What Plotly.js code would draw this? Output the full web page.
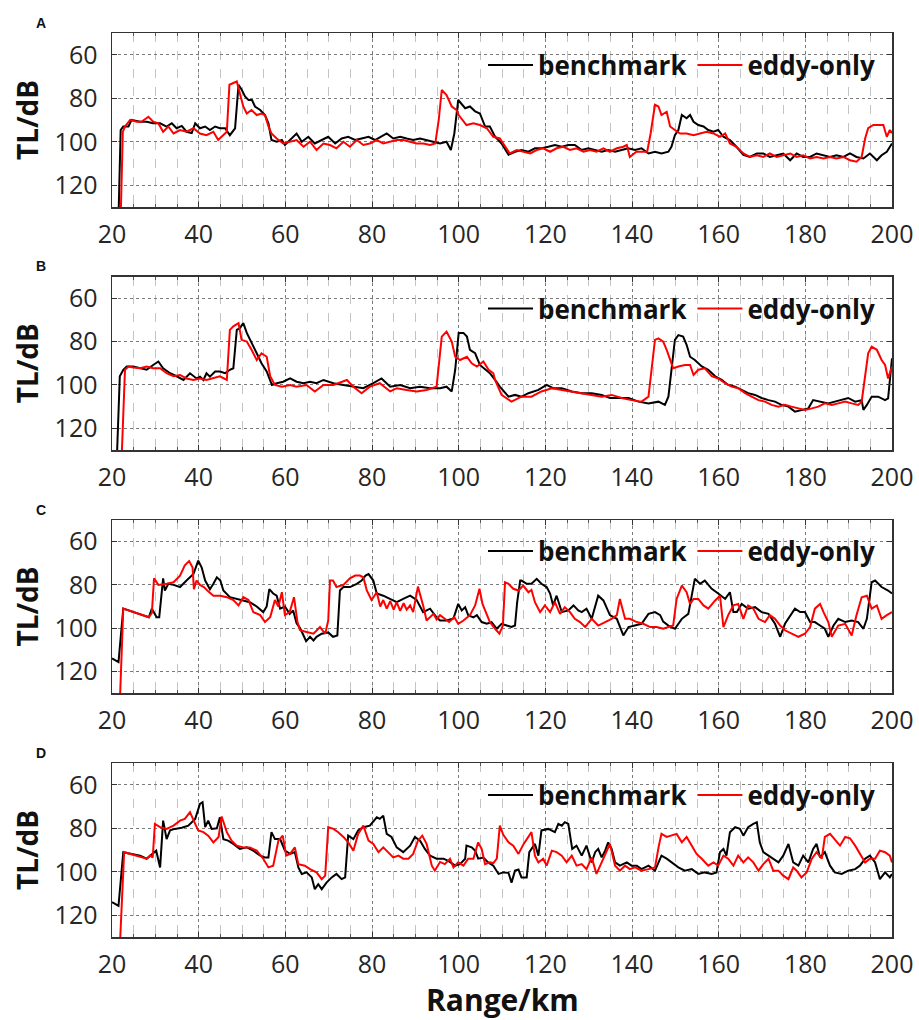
<!DOCTYPE html>
<html>
<head>
<meta charset="utf-8">
<script src="https://cdn.plot.ly/plotly-3.0.1.min.js"></script>
<style>html,body{margin:0;padding:0;background:#fff;}#chart{width:919px;height:1020px;}</style>
</head>
<body>
<div id="chart"></div>
<script>
// ---- Panel A ----
const rA_bench = [21.5,22,22.6,23.8,24.5,26.5,28,29.5,31.1,32.6,33.8,34.9,36.1,37.2,38.4,39.2,40.3,41.5,42.6,43.8,44.9,46.1,47.2,48.4,49.2,49.9,50.7,51.5,52.3,53,54.2,55.3,56.1,56.8,58,59.2,59.9,61,62.6,63.8,65.3,66.8,68.4,69.9,71.5,73,74.5,76.1,77.6,79.2,80.7,82.2,83.4,84.9,86.5,88,89.5,91.1,92.6,94.2,95.7,97.2,98.2,99,99.9,101.5,102.6,103.8,104.9,106.1,107.2,108.4,109.9,111.5,113,114.5,116.1,117.6,119.2,120.7,122.2,123.8,125.3,126.8,128.4,129.9,131.5,133,134.5,136.1,137.6,139.1,140.7,142.2,143.8,145.3,146.8,148.4,149.1,149.9,150.7,151.5,152.6,153.4,154.2,155.3,156.5,157.6,158.8,159.9,161.1,162.6,164.1,165.7,167.2,168.8,170.3,171.8,173.4,174.9,176.5,178,179.5,181.1,182.6,184.2,185.7,187.2,188.8,190.3,191.8,193.4,194.9,196.5,197.6,198.8,200];
const tlA_bench = [135,94.6,93,93,90,90.8,90.8,91.5,91.5,93,91.5,93.8,92.7,95.4,96,91.5,93.8,93,94.6,93,93.8,93.8,97,93.8,73.8,76,79.2,80.8,80.8,83.8,85.4,87.7,91.5,99.2,100,99.2,101.5,99.2,96.2,100,97.7,100.8,99.2,97.7,100.8,98.5,97.7,99.2,98.5,97.7,99.2,97.7,96.2,98.5,97.7,98.5,99.2,98.5,99.2,100,100.8,100,103.8,96.2,80.8,84.6,83.8,86,87,93,93,97.7,100.8,106,104.6,103.8,104.6,103,103,102.3,101.5,102.3,101.5,101.5,103.8,103,103.8,104.6,103.8,104.6,103.8,103,103.8,103,105.4,104.6,105.4,104.6,102.3,97,94.6,87.7,89.2,87.7,90.8,92.3,93,94.6,95.4,94.6,97.7,99.2,102.3,106,107,105.4,105.4,107,106.2,105.4,108.5,105.4,107,107,105.4,106.2,107,106.2,107,105.4,107,107.7,105.4,108.5,106.2,104.6,100.8];
const rA_eddy = [22,22.5,23,24.2,25.7,26.8,28.4,29.5,30.7,31.8,33,34.2,35.7,37.2,38.8,40.3,41.8,43.4,44.5,45.7,46.5,47.1,48,48.8,49.5,50.3,51.1,52.2,53.4,54.5,55.3,56.1,56.8,58,59.5,61,62.6,64.2,65.7,67.2,68.8,70.3,71.8,73.4,74.9,76.5,78,79.5,81.1,82.6,84.2,85.7,87.2,88.8,90.3,91.8,93.4,94.6,95.4,96.1,97.2,98.4,99.5,100,101.8,103.4,104.9,106.5,108,109.5,110.7,111.8,113.4,114.9,116.5,118,119.5,121.1,122.6,124.1,125.7,127.2,128.8,130.3,131.8,133.4,134.9,136.5,138,138.8,139.5,141,142.6,143.5,144.3,145.3,146.1,146.8,148,148.8,149.9,151.1,152.6,154.2,155.7,157.2,158.8,160.3,161.5,162.6,164.1,165.7,167.2,168.8,170.3,171.8,173.4,174.9,176.5,178,179.5,181.1,182.6,184.2,185.7,187.2,188.8,190.3,191.8,193,193.8,194.5,195.7,196.8,198,198.8,199.5,200];
const tlA_eddy = [135,95.4,93,90,90.8,90.8,88.5,90.8,91.5,95.4,93,96.2,94.6,95.4,93.8,96.2,97,95.4,99.2,97,95.4,73.8,73,72.3,77.7,83.8,87,85.4,87.7,87,87.7,93,96.2,98.5,100.8,100,99.2,102.3,100,103.8,100.8,101.5,103,100,102.3,99.2,101.5,100.8,99.2,100.8,100,99.2,99.2,100,100.8,100.8,101.5,100.8,90,76.2,78.5,83.8,85.4,87.7,92.3,91.5,92.3,93.8,97.7,98.5,102.3,105.4,103.8,104.6,105.4,103.8,103,104.6,103,102.3,103.8,103,104.6,103.8,104.6,103,104.6,103,102.3,101.5,107,104.6,104.6,104.6,96.2,83,83.8,87.7,86.2,93,94.6,96.2,96.2,97,96.2,95.4,96.2,97.7,96.2,100.8,102.3,105.4,107,106.2,107,105.4,107,106.2,105.4,107,106.2,107.7,107,107.7,107,107.7,107,108.5,109.2,107,98.5,93.8,92.3,92.3,92.3,97.7,94.6,96];

// ---- Panel B ----
const rB_bench = [21.1,21.8,22.6,23.4,24.9,26.5,28,29.5,30.7,31.8,33.4,34.9,36.5,38,39.5,40.3,41.1,41.8,42.6,43.8,44.9,46.1,47.2,48,48.8,49.5,50.3,51.1,52.2,53.4,54.5,55.7,56.9,58,59.5,61.1,62.6,64.2,65.7,67.2,68.8,71.1,73.4,75.7,78,80.3,82.2,84.2,86.5,88.8,91.1,93.4,95.7,97.2,98.4,99.2,100,101.1,101.9,102.6,103.8,104.9,106.1,107.2,108.4,109.5,111.5,113,114.5,116.1,118.4,120.3,121.8,123.8,126.1,128.4,130.7,133,134.9,136.8,139.2,141.5,143.8,146.1,147.6,148.4,149.2,149.9,150.7,151.8,152.6,153.4,154.5,156.1,157.6,159.2,160.7,162.2,163.8,165.3,166.8,168.4,169.9,171.5,173,174.5,176.1,177.6,179.1,180.7,181.8,183.4,185.3,186.8,188.4,189.9,191.5,193,193.4,194.2,195.3,196.8,198.4,199.1,200];
const tlB_bench = [135,96,93,91.5,91.5,92.3,93,90.8,89.2,92.3,94.6,96,97.7,94.6,97,96.2,97.7,94.6,96.2,93.8,93.8,94.6,93,92.3,74.6,73.8,71.5,76,80.8,85.4,90,93.8,100,99.2,98.5,97,98.5,99.2,98.5,99.2,97.7,99.2,100,100.8,101.5,99.2,97,100.8,100,101.5,100.8,101.5,101.5,100.8,103,93,76,76,77.7,83.8,85.4,90.8,93,94.6,97.7,100.8,105.4,104.6,105.4,103.8,102.3,100,101.5,101.5,103,103.8,103.8,104.6,106,106,106,107.7,108.5,107.7,109.2,105.4,90,79.2,77,77.7,81.5,87,88.5,91.5,93,96,97.7,100,100.8,102.3,103.8,104.6,106,107,107.7,109.2,110,112.3,111.5,110.8,107,107.7,108.5,107.7,107,106,107.7,107,111.5,109.2,105.4,105.4,107,106.2,87.7];
const rB_eddy = [22.2,23,23.8,24.9,26.5,28,29.5,31.1,32.6,34.2,35.7,37.2,38.8,40.3,41.8,43.4,44.9,46.5,47.2,48,49.2,49.9,51.1,52.2,53.4,54.5,55.7,56.5,57.6,59.2,61.1,62.6,64.9,66.8,68.8,71.1,74.2,75.7,77.6,79.5,81.8,84.2,85.7,88,90.3,92.6,94.9,96.1,97.2,98.4,99.2,100.3,101.9,103,104.2,105.7,106.9,108,108.4,109.9,112.2,114.5,116.8,119.1,121.5,123.8,126.1,128.4,130.7,133,135.3,137.6,139.9,142.2,143.8,144.5,145.3,146.1,147.2,148,148.8,149.5,150.7,152.2,153.4,154.2,155.3,156.8,158.4,159.9,161.5,163,164.5,166.1,167.6,169.2,170.7,172.2,173.8,175.3,176.8,178.4,179.9,181.5,183,184.5,186.1,187.6,189.2,190.7,192.2,193,193.8,194.5,195.3,196.5,197.6,198.4,199.1,200];
const tlB_eddy = [135,93,91.5,92,92.3,91.5,92.3,92.3,94.6,96,95.4,97,97.7,97,97.7,97,96,97.7,74.6,73,71.5,79.2,80,83.8,88.5,85.4,87,96,100,100.8,100,100.8,100,103,100,100,97.7,100.8,103.8,100.8,99.2,103,101.5,102.3,103,102.3,100.8,77.7,75.4,80,87,88.5,87,90,91.5,89.2,93,94.6,97.7,104.6,107.7,105.4,105.4,103,101.5,102.3,103,103.8,104.6,105.4,104.6,106,107,107.7,105.4,93,79.2,78.5,80,83.8,88.5,92.3,91.5,90.8,90.8,95.4,93,92.3,96,97,99.2,100.8,101.5,103.8,105.4,107,107.7,109.2,110,109.2,110,110.8,111.5,110.8,110,108.5,109.2,108.5,107.7,108.5,109.2,107.7,96,85.4,82.3,83.8,88.5,90.8,97,91.5];

// ---- Panel C ----
const rC_bench = [20,21.5,22.6,26,28.5,29.2,30.3,30.9,31.8,32.2,33,34.2,35.7,37.2,38.8,39.9,40.7,41.5,42.6,43.4,44.2,45,45.7,47.2,48.8,50.3,51.8,53.4,54.9,55.7,56.3,57.2,58,58.8,59.9,61,61.8,62.6,63.4,64.2,64.8,65.7,66.5,67.2,68.4,69.9,71,72,72.6,73.4,74.9,76.5,77.6,78.5,79.2,80.3,81.1,82.6,84.2,85.7,87.2,88.8,90.3,91.8,93.4,94.9,95.7,97.2,98.8,99.9,100.7,101.5,102.2,103.4,104.2,105.3,106.5,107.6,108.8,109.9,111.1,112.2,113,113.5,114.2,114.5,115.7,116.8,118,119.1,120.3,121.1,121.8,122.6,123.8,125.3,126.5,127.6,128.4,129.5,130.7,132.2,133.4,134.9,136.5,138,139.2,140.7,142.2,143.8,145.3,146.5,147.2,148.4,149.9,151.5,153,154.5,155.7,156.8,158.4,159.9,161.5,162.6,163.4,164.2,165.3,166.8,168.4,169.9,171.5,173,174.2,175.3,176.5,177.6,178.8,179.9,181.1,182.2,183.4,184.5,185.3,186.5,187.6,189.2,190.7,192.2,193.4,194.2,195.3,196.1,197.6,199.1,200];
const tlC_bench = [114,115.7,91,93.2,95,91,95,95,77,82.6,79.5,80,81,78,75,68.8,72,78,82,79.5,76.5,78,82.6,85.7,86.5,87,88,90,92.6,90,82,84,85,91,90,93.4,91.8,97.8,100,103.4,106,104,105.7,104,102.6,102,104,103.4,82.6,81,81,79.5,78,75.7,75,78,84,85,86.5,88,86.5,85,87,92.6,91,95,96.5,96.5,95.5,88.8,91.8,90.3,94,95,94,97.2,98,97.2,100.3,98,98.8,99.5,98.8,88,78,78,79.5,79.5,77.2,79.5,81,84,89.5,85,92.6,91.8,89.5,91.8,92.6,91,95.7,85,87.2,94,95.7,103.4,99.5,98.8,98,93.4,92.6,94,97,98.8,100.3,95.7,93.4,77.2,79.5,78,81.8,84,86.5,83.4,92.6,92.6,88.8,91,90.3,92.6,93.4,98,104,98,94,91,92.6,92.6,97.2,97.2,98.8,100.3,104,98.8,95.7,97.2,96.5,97.2,100.3,95.7,78.8,78,81,82.6,84];
const rC_eddy = [21.8,22.6,28.5,29.2,29.7,30.7,32.6,34.2,35.7,36.8,37.8,38.6,38.9,39.5,40.3,41.2,42.2,43.4,45,46.5,48,49.2,50.3,51.5,52.6,54.2,55.3,56.5,57.6,58.4,59.2,59.9,61,62,62.8,63.4,64.9,66.5,68,69.2,69.9,70.3,71,71.8,73.4,74.9,76.1,77.2,78,78.8,79.9,81.1,81.9,82.6,83.4,84.2,85,85.7,86.5,87.3,88,88.8,89.5,90.6,91.8,92.6,94.2,94.9,95.7,96.8,97.8,99,99.9,101.1,102.6,103.8,104.8,105.5,106.5,107.2,108.4,109.4,110.2,110.7,111.5,112.6,113.8,114.9,116.1,116.8,117.6,118.8,119.9,121.1,122.2,123.4,124.5,125.7,126.8,128,129.2,130.7,132.2,133.8,135.3,136.5,137.2,138.4,139.5,141.1,142.6,144.2,145.7,147.2,148.4,149.5,150.3,151.5,152.6,153.4,154.2,155.3,156.5,157.6,159.2,160.3,161.1,162.2,163.4,164.5,165.7,166.8,168,169.2,170.7,171.8,173,174.2,175.3,176.8,178.4,179.9,181.1,182.2,183.4,184.2,185.3,186.1,187.6,189.2,190.7,191.8,193,194.2,195.3,196.5,197.6,198.8,200];
const tlC_eddy = [135,91,95,93,77,80,79.5,78.8,75.7,71,69,72,82,78,80,81,83,85,85,85.7,87,89.5,85.7,87,92.6,94,97.2,95,87,90,83.4,94,92.6,85.7,97.2,101,101.8,102.6,99.5,102.6,96.5,78,78,81,80,77,75.7,75.7,76.5,82.6,87,83.4,90,87,91,87.5,91.5,88,92,88.5,91.5,89.5,92.6,80.8,89.5,96.5,93.4,96,94,95.5,97.2,95,98,96.5,94,89.5,81.8,88.8,94,97.2,100.3,102.6,98.8,78.8,79.5,81.8,82.6,80.3,83.4,82.3,88,92.6,89.5,92.6,88,93.4,90.3,92.6,95.7,97.2,99.5,95.7,98.8,97.2,95.7,94,86.5,95.7,95.7,97.2,98,99.5,99.5,100.3,99.5,98.8,86.5,80.3,83.4,88.8,86.5,86.5,89.5,91,87.2,85,99.5,94,89.5,88.8,95.7,89.5,91,95.7,97.2,94,95.7,98.8,101,102.6,104,102.6,99.5,91,88.8,92.6,97.2,104,98.8,98,103.4,94,85.7,85,91,89.5,95.7,94,92.6];

// ---- Panel D ----
const rD_bench = [20,21.1,21.5,22.6,24.9,26.5,28,29.2,30.2,31.1,31.8,32.6,33.4,34.5,36.1,37.6,39.2,40.3,40.9,41.5,42.2,43,44.2,44.9,45.7,46.8,48,49.5,51.1,52.6,54.2,55.3,56.1,56.8,57.6,58.8,59.9,61.1,62.2,63,63.8,64.9,66.1,66.8,67.6,68.4,69.5,70.7,71.8,73,73.8,74.5,75.7,76.8,78,79.5,81.1,81.8,82.6,83.4,84.5,85.7,87.2,88.8,89.9,91.1,92.2,93.4,94.9,96.5,97.6,99.2,100.3,101.5,101.8,103,103.8,104.5,105.7,106.8,108,109.2,110.3,111.5,112.2,113,113.8,114.5,115.7,116.3,117.6,118.4,119.1,120.7,122.2,123,123.8,124.5,125.3,126.2,127.2,128.4,129.5,130.7,131.5,132.2,133,133.8,134.5,135.3,136.1,137.2,138.8,139.9,141.1,142.2,143.8,145.3,146.8,148,149.2,150.7,152.2,153.8,155.3,156.8,158.4,159.5,160.3,161.1,161.8,162.6,163.8,164.9,165.7,166.8,168,168.8,169.5,170.3,171.5,172.6,173.8,174.9,176.1,177.2,178.4,179.5,180.7,181.8,182.6,183.4,184.5,185.7,186.8,188.4,189.9,191.5,192.6,193.8,194.9,196.1,197.2,198.4,199.5,200];
const tlD_bench = [114,115,115.7,91,91.8,92.6,94,91.8,90.3,98,76.5,85,81,80.3,79.8,78.8,75.7,68.8,68,79.5,76.5,80.3,80,75,85,85.7,87.2,89.5,88.8,90.3,92.6,93.4,93.4,81.8,85,85,90.3,91.8,91,98,101,100.3,102.6,108,105.7,108,105,102.6,101,103.4,102.6,83.4,85,81,79.5,78.8,75,75.7,74.2,82.6,84,88.8,91,88,84,85.7,89.5,92.6,94,94,95,97.2,96.5,94,88,88.8,90.3,94,93.5,95.7,97.2,101,100.3,100.5,105,99.5,99,102.6,102.6,91,87.2,92.6,81,80.3,81.8,78,78.8,77.2,78,89.5,88,92.6,88,95.7,91,89.5,93.4,90.3,86.5,89.5,95.7,97.2,95.7,97.2,97.2,98.8,97.2,99.5,92.6,94,95.7,98,99.5,98.8,101,100.3,101,100.3,91,89.5,92.6,81.8,79.5,80.3,83.4,79.5,78,77.2,86.5,91,92.6,94,95.7,92.6,87.2,95.7,97.2,92.6,95.7,89.5,87.2,93.4,91,97.2,100.3,101,99.5,98.8,97.2,94,92.6,95.7,103.4,100.3,102.6,101];
const rD_eddy = [21.8,22.8,28,28.8,29.4,29.9,31.1,32.6,34.2,35.7,36.8,38,39.2,39.9,41.1,42.2,43.4,44.6,45.3,46.5,47.6,48.8,50.3,51.8,53.4,54.9,56.1,57.2,58.4,59.4,60.2,61.1,62.2,63,64.5,65.7,67.2,68.4,69.2,69.9,71.1,72.2,73.4,74.5,75.7,76.8,78,79.2,80.3,81.5,82.6,83.8,84.9,86.1,87.2,88.4,89.5,90.6,91.6,92.6,93.8,94.5,95.7,96.8,98,98.8,99.9,101.1,102.2,103.4,104.5,105.3,106.1,107.2,108,108.8,109.5,110.3,111.5,112.6,113.8,115,116.1,116.8,117.6,118.4,119.5,120.3,121.5,122.6,123.8,124.9,126.1,127.2,128.4,129.5,130.7,131.8,133,134.1,134.9,136.1,137.2,138.4,139.5,140.7,142.2,143.8,145.3,146.2,146.8,148,149.2,150.3,151.5,152.6,153.8,154.9,156.1,157.6,158.8,159.9,161.1,162.2,163.4,164.5,165.7,166.8,168,169.2,170.3,171.5,172.6,173.8,174.9,176.1,177.2,178,179.1,180.3,181.5,182.6,183.8,184.5,185.7,186.8,188,189.2,190.3,191.5,192.6,193.8,194.9,196.1,197.2,198.4,199.5,200];
const tlD_eddy = [135,91,94,92.5,93.4,78,79.5,80.3,78.8,76.5,75.7,72.6,78,81,81.8,83.4,86.5,84,74.6,81.8,85.7,88,88.8,88.8,90.3,94,98,97.2,85.7,83.4,92.6,91.8,88.8,96.5,97.2,98.8,100.3,103.4,101.8,79.5,80.3,81.8,84,86.5,90.3,82.6,78.8,85.7,87.2,91,88.8,91,93.4,92.6,94,94,91.8,85.7,83.4,87.2,97.2,99.5,95.5,96.5,94,98,95.7,97.2,94,94,86.5,89.5,96.5,95.7,96,94,78.8,83,86.5,88,91.8,87.2,84,81.8,92.6,95.7,94,97.2,90.3,91,92.6,95.7,92.6,97.2,96.5,98.8,93.4,101,95.7,91,87.2,97.2,99.5,97.2,98.8,98,99.5,98.8,98,88,82.6,84,83.4,82.6,86.5,84,88,91.8,94,97.2,95.7,97.2,92.6,94,97.2,92.6,95.7,93.4,95.7,99.5,96.5,94,99.5,99.5,101.8,103.4,98,99.5,102.6,100.3,94,91,94,84,82.6,85,88,84,84.6,88,91.8,95.7,94,94,90.3,91,92.6,95.7];

// ---- shared labels / ticks ----
const panelLetters = ['A','B','C','D'];
const seriesNames = ['benchmark','eddy-only'];
const xTickVals = [20,40,60,80,100,120,140,160,180,200];
const yTickVals = [60,80,100,120];
const xRange = [20,200];
const yRange = [130,50];
const yTitle = 'TL/dB';
const xTitle = 'Range/km';

const panels = [
  [rA_bench, tlA_bench, rA_eddy, tlA_eddy],
  [rB_bench, tlB_bench, rB_eddy, tlB_eddy],
  [rC_bench, tlC_bench, rC_eddy, tlC_eddy],
  [rD_bench, tlD_bench, rD_eddy, tlD_eddy]
];

const W = 919, H = 1020;
const plotLeft = 112, plotRight = 892;
const tops = [33, 276.5, 520, 763];
const bottoms = [207, 450, 693, 937];
const legendY = [65, 308.5, 551, 795];
const colors = ['#000000', '#ff0000'];
const FONT = '"Open Sans", "DejaVu Sans", sans-serif';

const traces = [];
const layout = {
  width: W, height: H,
  margin: {l: 0, r: 0, t: 0, b: 0},
  paper_bgcolor: '#ffffff',
  plot_bgcolor: '#ffffff',
  font: {family: FONT, color: '#222222'},
  annotations: [],
  showlegend: true
};

panels.forEach((p, i) => {
  const n = i + 1;
  const xa = 'x' + (n === 1 ? '' : n);
  const ya = 'y' + (n === 1 ? '' : n);
  const lg = 'legend' + (n === 1 ? '' : n);
  for (let s = 0; s < 2; s++) {
    traces.push({
      type: 'scatter', mode: 'lines',
      x: p[s * 2], y: p[s * 2 + 1],
      name: seriesNames[s],
      line: {color: colors[s], width: 2},
      xaxis: xa, yaxis: ya, legend: lg,
      hoverinfo: 'skip'
    });
  }
  const xKey = 'xaxis' + (n === 1 ? '' : n);
  const yKey = 'yaxis' + (n === 1 ? '' : n);
  layout[xKey] = {
    domain: [plotLeft / W, plotRight / W],
    anchor: ya,
    range: xRange,
    tickvals: xTickVals,
    ticks: 'inside', ticklen: 5, tickcolor: '#333', tickwidth: 1,
    showline: true, linecolor: '#333', linewidth: 1.5, mirror: 'ticks',
    showgrid: true, gridcolor: '#7a7a7a', griddash: 'dot', gridwidth: 1,
    minor: {dtick: 5, showgrid: true, gridcolor: '#c4c4c4', griddash: 'dash', gridwidth: 1, ticks: 'inside', ticklen: 3, tickcolor: '#555'},
    zeroline: false,
    tickfont: {family: FONT, size: 25, color: '#262626'},
    ticklabelstandoff: 4,
    fixedrange: true
  };
  layout[yKey] = {
    domain: [1 - bottoms[i] / H, 1 - tops[i] / H],
    anchor: xa,
    range: yRange,
    tickvals: yTickVals,
    ticks: 'inside', ticklen: 5, tickcolor: '#333', tickwidth: 1,
    showline: true, linecolor: '#333', linewidth: 1.5, mirror: 'ticks',
    showgrid: true, gridcolor: '#7a7a7a', griddash: 'dot', gridwidth: 1,
    zeroline: false,
    tickfont: {family: FONT, size: 25, color: '#262626'},
    ticklabelstandoff: 8,
    title: {text: yTitle, font: {family: FONT, size: 28, color: '#111', weight: 'bold'}, standoff: 8},
    fixedrange: true
  };
  layout[lg] = {
    orientation: 'h',
    x: 880 / W, xanchor: 'right',
    y: 1 - legendY[i] / H, yanchor: 'middle',
    bgcolor: 'rgba(0,0,0,0)',
    borderwidth: 0,
    font: {family: FONT, size: 26, color: '#111', weight: 'bold'},
    itemwidth: 45,
    tracegroupgap: 0
  };
  layout.annotations.push({
    text: '<b>' + panelLetters[i] + '</b>',
    xref: 'paper', yref: 'paper',
    x: 41 / W, y: 1 - (tops[i] - 10.5) / H,
    xanchor: 'center', yanchor: 'middle',
    showarrow: false,
    font: {family: 'Liberation Sans, Arial, sans-serif', size: 14, color: '#111'}
  });
});

// x-axis title of the bottom panel, placed low like the reference but kept inside the picture
layout.annotations.push({
  text: '<b>' + xTitle + '</b>',
  xref: 'paper', yref: 'paper',
  x: (plotLeft + plotRight) / 2 / W, y: 1 - 977 / H,
  xanchor: 'center', yanchor: 'top',
  showarrow: false,
  font: {family: FONT, size: 30, color: '#111'}
});

Plotly.newPlot('chart', traces, layout, {staticPlot: true, displayModeBar: false});
</script>
</body>
</html>
